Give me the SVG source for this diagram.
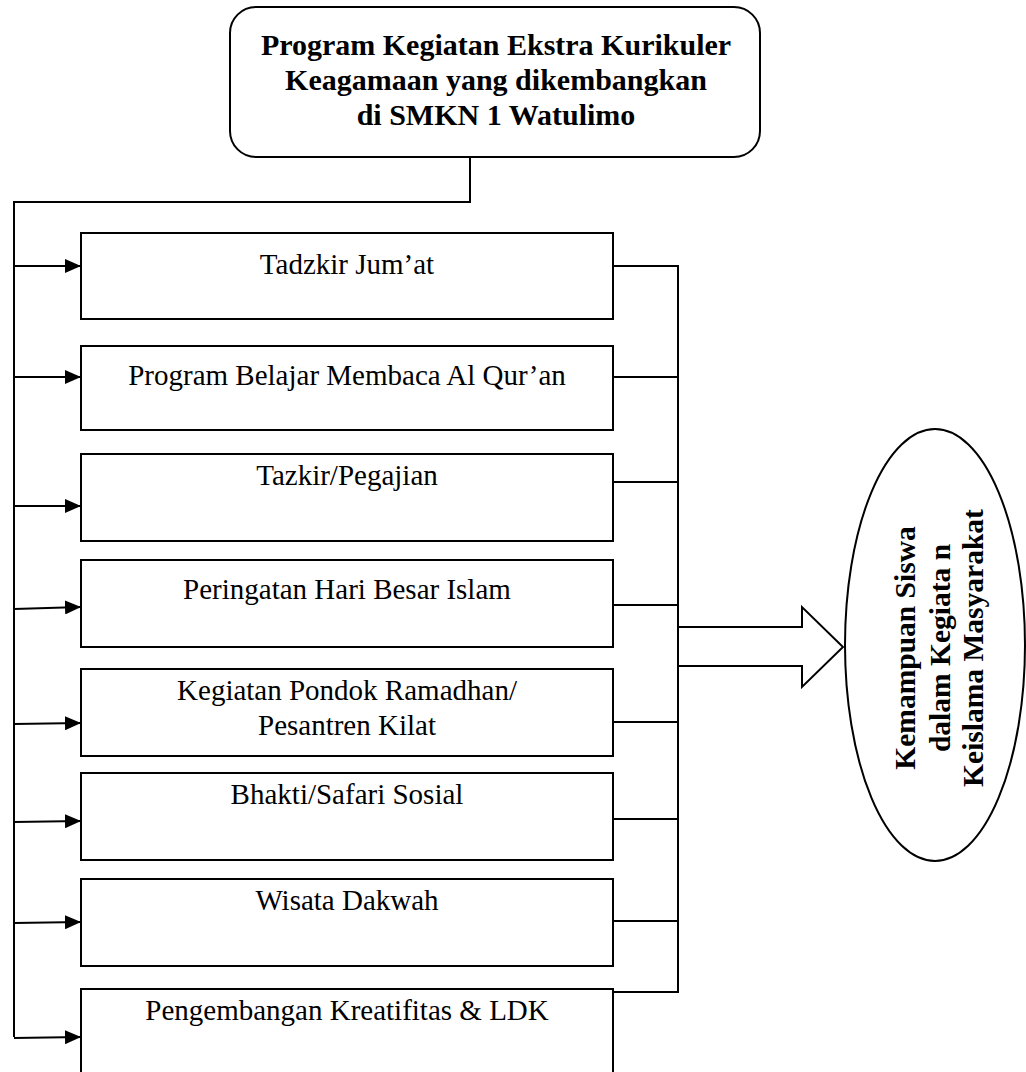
<svg xmlns="http://www.w3.org/2000/svg" width="1026" height="1072" viewBox="0 0 1026 1072">
<defs>
<marker id="ah" markerUnits="userSpaceOnUse" markerWidth="16" markerHeight="14" refX="16" refY="7" orient="auto">
<path d="M0,0 L16,7 L0,14 z" fill="#000"/>
</marker>
<style>
.b{fill:#fff;stroke:#000;stroke-width:2}
.c{fill:none;stroke:#000;stroke-width:2}
.t{font-family:"Liberation Serif","Times New Roman",serif;font-size:29px;fill:#000;text-anchor:middle}
.tb{font-family:"Liberation Serif","Times New Roman",serif;font-weight:bold;fill:#000;text-anchor:middle}
</style>
</defs>
<rect width="1026" height="1072" fill="#fff"/>
<g id="connectors">
<polyline class="c" points="470,157 470,202 14,202 14,1037"/>
<line class="c" x1="14" y1="266" x2="81" y2="266" marker-end="url(#ah)"/>
<line class="c" x1="14" y1="377" x2="81" y2="377" marker-end="url(#ah)"/>
<line class="c" x1="14" y1="506" x2="81" y2="506" marker-end="url(#ah)"/>
<line class="c" x1="14" y1="609" x2="81" y2="607" marker-end="url(#ah)"/>
<line class="c" x1="14" y1="724" x2="81" y2="723" marker-end="url(#ah)"/>
<line class="c" x1="14" y1="822" x2="81" y2="821" marker-end="url(#ah)"/>
<line class="c" x1="14" y1="923" x2="81" y2="922" marker-end="url(#ah)"/>
<line class="c" x1="14" y1="1038" x2="81" y2="1037" marker-end="url(#ah)"/>
<polyline class="c" points="613,266 678,266 678,992 613,992"/>
<line class="c" x1="613" y1="377" x2="678" y2="377"/>
<line class="c" x1="613" y1="482" x2="678" y2="482"/>
<line class="c" x1="613" y1="605" x2="678" y2="605"/>
<line class="c" x1="613" y1="722" x2="678" y2="722"/>
<line class="c" x1="613" y1="819" x2="678" y2="819"/>
<line class="c" x1="613" y1="921" x2="678" y2="921"/>
<polygon class="b" points="678,627 802,627 802,607 843,647 802,687 802,666 678,666"/>
</g>
<g id="top">
<rect class="b" x="230" y="7" width="530" height="150" rx="26" ry="26"/>
<text class="tb" font-size="30" x="496" y="55">Program Kegiatan Ekstra Kurikuler</text>
<text class="tb" font-size="30" x="496" y="90">Keagamaan yang dikembangkan</text>
<text class="tb" font-size="30" x="496" y="125">di SMKN 1 Watulimo</text>
</g>
<g id="n1"><rect class="b" x="81" y="233" width="532" height="86"/><text class="t" x="347" y="274">Tadzkir Jum’at</text></g>
<g id="n2"><rect class="b" x="81" y="346" width="532" height="84"/><text class="t" x="347" y="385">Program Belajar Membaca Al Qur’an</text></g>
<g id="n3"><rect class="b" x="81" y="454" width="532" height="87"/><text class="t" x="347" y="485">Tazkir/Pegajian</text></g>
<g id="n4"><rect class="b" x="81" y="560" width="532" height="87"/><text class="t" x="347" y="599">Peringatan Hari Besar Islam</text></g>
<g id="n5"><rect class="b" x="81" y="669" width="532" height="87"/><text class="t" x="347" y="700">Kegiatan Pondok Ramadhan/</text><text class="t" x="347" y="735">Pesantren Kilat</text></g>
<g id="n6"><rect class="b" x="81" y="773" width="532" height="87"/><text class="t" x="347" y="804">Bhakti/Safari Sosial</text></g>
<g id="n7"><rect class="b" x="81" y="879" width="532" height="87"/><text class="t" x="347" y="910">Wisata Dakwah</text></g>
<g id="n8"><rect class="b" x="81" y="989" width="532" height="95"/><text class="t" x="347" y="1020">Pengembangan Kreatifitas &amp; LDK</text></g>
<g id="result">
<ellipse class="b" cx="935" cy="645" rx="90" ry="216"/>
<text class="tb" font-size="29.5" transform="translate(915,648) rotate(-90)">Kemampuan Siswa</text>
<text class="tb" font-size="29.5" transform="translate(950,648) rotate(-90)">dalam Kegiata n</text>
<text class="tb" font-size="29.5" transform="translate(983,648) rotate(-90)">Keislama Masyarakat</text>
</g>
</svg>
